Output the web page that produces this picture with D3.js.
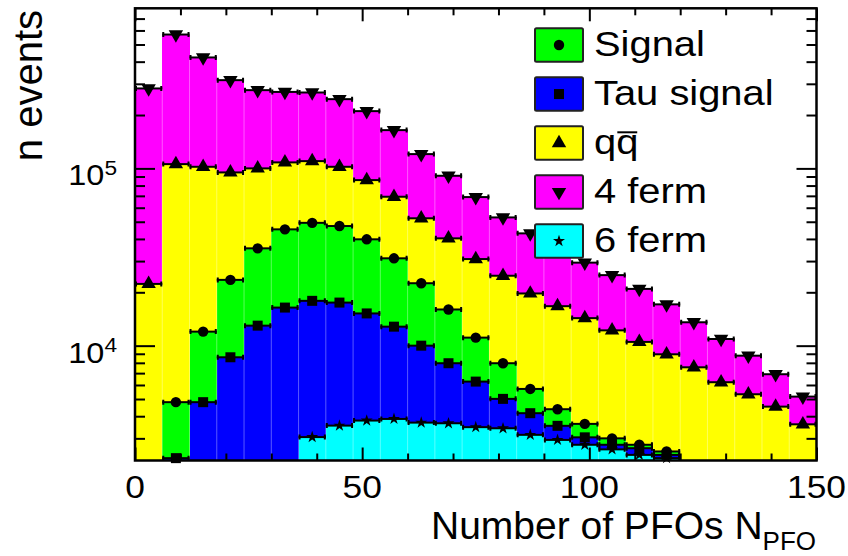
<!DOCTYPE html>
<html>
<head>
<meta charset="utf-8">
<script src="https://cdn.jsdelivr.net/npm/d3@7"></script>
<style>
body { margin: 0; background: #fff; }
svg { display: block; font-family: "Liberation Sans", Arial, Helvetica, sans-serif; }
</style>
</head>
<body>
<script>
// bin edges of the N_PFO histogram (width 6)
const binEdges = [0, 6, 12, 18, 24, 30, 36, 42, 48, 54, 60, 66, 72, 78, 84, 90,
    96, 102, 108, 114, 120, 126, 132, 138, 144, 150];

// visible top of each stacked layer, per bin (0 = empty / below axis)
const fourFerm = [282500, 569000, 422500, 314600, 276300, 270000, 268000, 245800, 210400, 164400,
    120400, 90850, 68900, 52900, 43000, 35500, 29400, 25000, 20900, 17100,
    13550, 10900, 8780, 6900, 5160];
const qqbar = [22300, 105700, 102100, 94900, 100000, 108100, 109900, 102100, 85900, 69200,
    52300, 40300, 30800, 24800, 19700, 16700, 14300, 12200, 10500, 8940,
    7550, 6220, 5320, 4530, 3600];
const signal = [0, 4800, 12000, 23500, 35400, 45300, 49300, 47300, 39800, 31100,
    22500, 16000, 11100, 7960, 5700, 4380, 3620, 3000, 2760, 2530,
    0, 0, 0, 0, 0];
const tauSignal = [0, 2320, 4800, 8600, 12970, 16400, 17900, 17500, 15200, 12800,
    10000, 7960, 6270, 5010, 4160, 3530, 3040, 2760, 2640, 2420,
    0, 0, 0, 0, 0];
const sixFerm = [0, 0, 0, 0, 0, 0, 3050, 3540, 3780, 3860,
    3680, 3650, 3470, 3420, 3140, 2940, 2760, 2600, 2420, 2320,
    0, 0, 0, 0, 0];

const legendLabels = ["Signal", "Tau signal", "qq", "4 ferm", "6 ferm"];
const xMajor = [0, 50, 100, 150];
const xMinor = [10, 20, 30, 40, 60, 70, 80, 90, 110, 120, 130, 140];
const yMajor = [1e4, 1e5];
const yMinor = [3000, 4000, 5000, 6000, 7000, 8000, 9000,
    20000, 30000, 40000, 50000, 60000, 70000, 80000, 90000,
    200000, 300000, 400000, 500000, 600000, 700000];

const width = 848, height = 556;
const sx = 1.14; // text in the picture is a bit wider than plain Helvetica

const x = d3.scaleLinear().domain([0, 150]).range([135, 816.5]);
const y = d3.scaleLog().domain([2250, 8e5]).range([460.5, 8.3]);
const yMin = y.domain()[0];
const y0 = y.range()[0];

const svg = d3.select('body').append('svg')
    .attr('width', width)
    .attr('height', height);

// drawn back to front
const layers = [
    { values: fourFerm, color: '#ff00ff', symbol: 'tdown' },
    { values: qqbar, color: '#ffff00', symbol: 'tup' },
    { values: signal, color: '#00ff00', symbol: 'circle' },
    { values: tauSignal, color: '#0000ff', symbol: 'square' },
    { values: sixFerm, color: '#00ffff', symbol: 'star' }
];

const symbolPath = {
    circle: d3.symbol(d3.symbolCircle, 85)(),
    square: d3.symbol(d3.symbolSquare, 100)(),
    tup: d3.symbol(d3.symbolTriangle, 90)(),
    tdown: d3.symbol(d3.symbolTriangle, 90)(),
    star: d3.symbol(d3.symbolStar, 45)()
};
const symbolRot = { tdown: 180 };

const bins = (vals) => vals.map((v, i) => ({ v: v, x0: binEdges[i], x1: binEdges[i + 1] }))
    .filter(d => d.v > yMin);

const fills = svg.append('g');
layers.forEach(l => {
    fills.append('g').selectAll('rect')
        .data(bins(l.values))
        .join('rect')
        .attr('x', d => x(d.x0))
        .attr('width', d => x(d.x1) - x(d.x0))
        .attr('y', d => y(d.v))
        .attr('height', d => y0 - y(d.v))
        .attr('fill', l.color)
        .attr('shape-rendering', 'crispEdges');
});

// faint seams between bins
fills.append('g').selectAll('line')
    .data(binEdges.slice(1, -1).map((e, i) => ({ e: e, v: Math.min(fourFerm[i], fourFerm[i + 1]) })))
    .join('line')
    .attr('x1', d => x(d.e)).attr('x2', d => x(d.e))
    .attr('y1', y0).attr('y2', d => y(d.v))
    .attr('stroke', '#fff')
    .attr('stroke-opacity', 0.35)
    .attr('stroke-width', 1);

// error bars + markers
layers.forEach(l => {
    const g = svg.append('g');
    const b = bins(l.values);
    g.selectAll('line.err')
        .data(b)
        .join('line')
        .attr('class', 'err')
        .attr('x1', d => x(d.x0)).attr('x2', d => x(d.x1))
        .attr('y1', d => y(d.v)).attr('y2', d => y(d.v))
        .attr('stroke', '#000')
        .attr('stroke-width', 2);
    g.selectAll('path.cap')
        .data(b)
        .join('path')
        .attr('class', 'cap')
        .attr('d', d => `M${x(d.x0) + 1},${y(d.v) - 2.5}v5M${x(d.x1) - 1},${y(d.v) - 2.5}v5`)
        .attr('stroke', '#000')
        .attr('stroke-width', 2);
    g.selectAll('path.mk')
        .data(b)
        .join('path')
        .attr('class', 'mk')
        .attr('d', symbolPath[l.symbol])
        .attr('transform', d => `translate(${x((d.x0 + d.x1) / 2)},${y(d.v)}) rotate(${symbolRot[l.symbol] || 0})`)
        .attr('fill', '#000');
});

// axes (ticks inside the frame, on all four sides)
const axisG = svg.append('g').attr('stroke-width', 2);
const addAxis = (axis, tx, ty) => {
    const g = axisG.append('g').attr('transform', `translate(${tx},${ty})`).call(axis);
    g.select('.domain').remove();
    g.selectAll('line').attr('stroke', '#000').attr('stroke-width', 2);
};
addAxis(d3.axisBottom(x).tickValues(xMajor).tickSize(-13).tickFormat(''), 0, y0);
addAxis(d3.axisBottom(x).tickValues(xMinor).tickSize(-7).tickFormat(''), 0, y0);
addAxis(d3.axisTop(x).tickValues(xMajor).tickSize(-13).tickFormat(''), 0, y.range()[1]);
addAxis(d3.axisTop(x).tickValues(xMinor).tickSize(-7).tickFormat(''), 0, y.range()[1]);
addAxis(d3.axisLeft(y).tickValues(yMajor).tickSize(-20).tickFormat(''), x.range()[0], 0);
addAxis(d3.axisLeft(y).tickValues(yMinor).tickSize(-10).tickFormat(''), x.range()[0], 0);
addAxis(d3.axisRight(y).tickValues(yMajor).tickSize(-20).tickFormat(''), x.range()[1], 0);
addAxis(d3.axisRight(y).tickValues(yMinor).tickSize(-10).tickFormat(''), x.range()[1], 0);

svg.append('rect')
    .attr('x', x.range()[0]).attr('y', y.range()[1])
    .attr('width', x.range()[1] - x.range()[0])
    .attr('height', y0 - y.range()[1])
    .attr('fill', 'none')
    .attr('stroke', '#000')
    .attr('stroke-width', 2.5);

// tick labels
svg.append('g').selectAll('g')
    .data(xMajor)
    .join('g')
    .attr('transform', d => `translate(${x(d)},498) scale(${sx},1)`)
    .append('text')
    .attr('text-anchor', 'middle')
    .attr('font-size', 31)
    .text(d => d);

const yl = svg.append('g').selectAll('g')
    .data(yMajor)
    .join('g')
    .attr('transform', d => `translate(117,${y(d) + 17}) scale(1.08,1)`)
    .append('text')
    .attr('text-anchor', 'end')
    .attr('font-size', 30);
yl.append('tspan').text('10');
yl.append('tspan').attr('font-size', 21).attr('dy', -10.5).text(d => Math.round(Math.log10(d)));

// axis titles
const xt = svg.append('text')
    .attr('x', 816).attr('y', 539)
    .attr('text-anchor', 'end')
    .attr('font-size', 39);
xt.append('tspan').text('Number of PFOs N');
xt.append('tspan').attr('font-size', 26).attr('dy', 11).text('PFO');

svg.append('text')
    .attr('transform', 'translate(42,10) rotate(-90)')
    .attr('text-anchor', 'end')
    .attr('font-size', 40)
    .text('n events');

// legend (same order as the reference)
const legendOrder = [2, 3, 1, 0, 4];
const leg = svg.append('g');
legendOrder.forEach((li, i) => {
    const l = layers[li];
    const top = 28.3 + 49 * i;
    leg.append('rect')
        .attr('x', 535).attr('y', top)
        .attr('width', 48).attr('height', 33.5)
        .attr('rx', 1.5)
        .attr('fill', l.color)
        .attr('stroke', '#222')
        .attr('stroke-width', 2);
    leg.append('path')
        .attr('d', symbolPath[l.symbol])
        .attr('transform', `translate(559,${top + 16.75}) rotate(${symbolRot[l.symbol] || 0})`)
        .attr('fill', '#000');
    const tg = leg.append('g').attr('transform', `translate(594,${top + 28}) scale(${sx},1)`);
    const t = tg.append('text').attr('font-size', 35).text(legendLabels[i]);
    if (legendLabels[i] === 'qq') {
        const p = t.node().getStartPositionOfChar(1);
        const w = t.node().getSubStringLength(1, 1);
        tg.append('line')
            .attr('x1', p.x + 1).attr('x2', p.x + w - 1)
            .attr('y1', -22).attr('y2', -22)
            .attr('stroke', '#000')
            .attr('stroke-width', 2);
    }
});
</script>
</body>
</html>
